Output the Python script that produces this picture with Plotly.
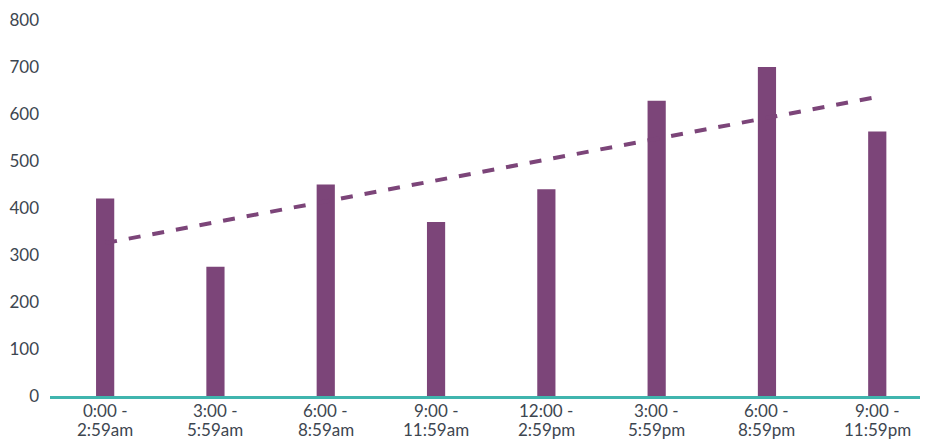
import numpy as np
import plotly.graph_objects as go

categories = ["0:00 -<br>2:59am", "3:00 -<br>5:59am", "6:00 -<br>8:59am", "9:00 -<br>11:59am",
              "12:00 -<br>2:59pm", "3:00 -<br>5:59pm", "6:00 -<br>8:59pm", "9:00 -<br>11:59pm"]
values = [420, 275, 450, 370, 440, 628, 700, 563]
y_ticks = [0, 100, 200, 300, 400, 500, 600, 700, 800]

idx = np.arange(len(values))
slope, intercept = np.polyfit(idx, values, 1)
trend = intercept + slope * idx

color = "#7c4579"
text_color = "#3d4650"
font_family = "Lato"

fig = go.Figure()
fig.add_trace(go.Scatter(x=idx, y=trend, mode="lines",
                         line=dict(color=color, width=4, dash="dash"),
                         hoverinfo="skip", showlegend=False))
fig.add_trace(go.Bar(x=idx, y=values, marker=dict(color=color, line=dict(width=0)),
                     width=0.165, showlegend=False))

# category labels: two tightly spaced lines under each bar
for i, lab in zip(idx, categories):
    first, second = lab.split("<br>")
    fig.add_annotation(x=i, xref="x", y=0, yref="paper", yanchor="top",
                       text=first, showarrow=False, yshift=-3, borderpad=0,
                       font=dict(family=font_family, size=17, color=text_color))
    fig.add_annotation(x=i, xref="x", y=0, yref="paper", yanchor="top",
                       text=second, showarrow=False, yshift=-22, borderpad=0,
                       font=dict(family=font_family, size=17, color=text_color))

# page body has an 8px margin, so the figure is 8px smaller than the window
fig.update_layout(
    width=920, height=434,
    margin=dict(l=42, r=0, t=12, b=46),
    paper_bgcolor="white", plot_bgcolor="white",
    font=dict(family=font_family, size=17, color=text_color),
    xaxis=dict(tickmode="array", tickvals=list(idx), showticklabels=False,
               range=[-0.5, 7.46], showgrid=False, zeroline=False,
               showline=True, linecolor="#40b5ae", linewidth=3,
               ticks="", automargin=False),
    yaxis=dict(range=[0, 800], tickvals=y_ticks, showgrid=False, zeroline=False,
               showline=False, ticks="", ticklabelstandoff=10, automargin=False,
               tickfont=dict(size=17)),
)

fig.write_html("out.html")
